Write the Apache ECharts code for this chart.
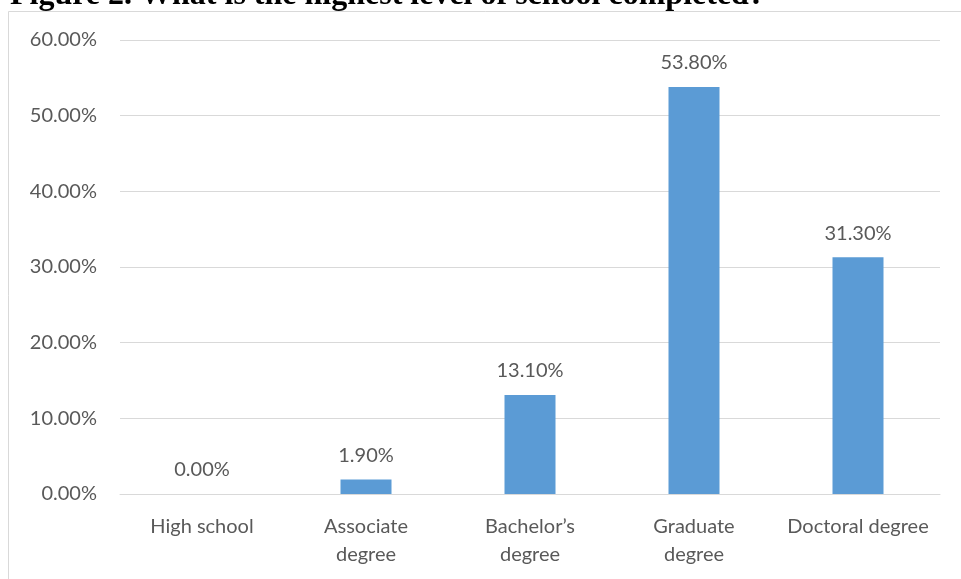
<!DOCTYPE html>
<html>
<head>
<meta charset="utf-8">
<script src="https://cdn.jsdelivr.net/npm/echarts@6/dist/echarts.min.js"></script>
<style>
  html, body { margin: 0; padding: 0; background: #ffffff; }
  #chart { width: 961px; height: 579px; }
</style>
</head>
<body>
<div id="chart"></div>
<script>
// Highest level of school completed (share of respondents)
const categories = ['High school', 'Associate\ndegree', 'Bachelor\u2019s\ndegree', 'Graduate\ndegree', 'Doctoral degree'];
const shares = [0.0, 1.9, 13.1, 53.8, 31.3];
const yTicks = [0, 10, 20, 30, 40, 50, 60];
const titleText = 'Figure 2. What is the highest level of school completed?';

const textColor = '#595959';
const lineColor = '#d9d9d9';
const uiFont = 'Lato, "Open Sans", sans-serif';

const chart = echarts.init(document.getElementById('chart'), null, { renderer: 'canvas' });

chart.setOption({
  animation: false,
  backgroundColor: '#ffffff',
  graphic: [
    {
      type: 'rect',
      shape: { x: 8.5, y: 11.5, width: 1000, height: 1000 },
      style: { fill: 'none', stroke: lineColor, lineWidth: 1 },
      silent: true,
      z: 0
    },
    {
      type: 'text',
      x: 10,
      y: -4,
      style: {
        text: titleText,
        font: 'bold 32px "Liberation Serif", "Times New Roman", serif',
        fill: '#000000',
        verticalAlign: 'middle',
        align: 'left'
      },
      z: 10
    }
  ],
  grid: { left: 120, right: 21, top: 40, bottom: 85, containLabel: false },
  xAxis: {
    type: 'category',
    data: categories,
    axisLine: { show: true, lineStyle: { color: lineColor, width: 1 } },
    axisTick: { show: false },
    axisLabel: {
      color: textColor,
      fontFamily: uiFont,
      fontSize: 20,
      lineHeight: 28,
      margin: 19,
      interval: 0
    }
  },
  yAxis: {
    type: 'value',
    min: yTicks[0],
    max: yTicks[yTicks.length - 1],
    interval: yTicks[1] - yTicks[0],
    axisLine: { show: false },
    axisTick: { show: false },
    splitLine: { lineStyle: { color: lineColor, width: 1 } },
    axisLabel: {
      color: textColor,
      fontFamily: uiFont,
      fontSize: 20,
      margin: 23,
      formatter: v => v.toFixed(2) + '%'
    }
  },
  series: [{
    type: 'bar',
    data: shares,
    barWidth: 51,
    itemStyle: { color: '#5b9bd5' },
    label: {
      show: true,
      position: 'top',
      distance: 14,
      color: textColor,
      fontFamily: uiFont,
      fontSize: 20,
      formatter: p => p.value.toFixed(2) + '%'
    }
  }]
});
</script>
</body>
</html>
